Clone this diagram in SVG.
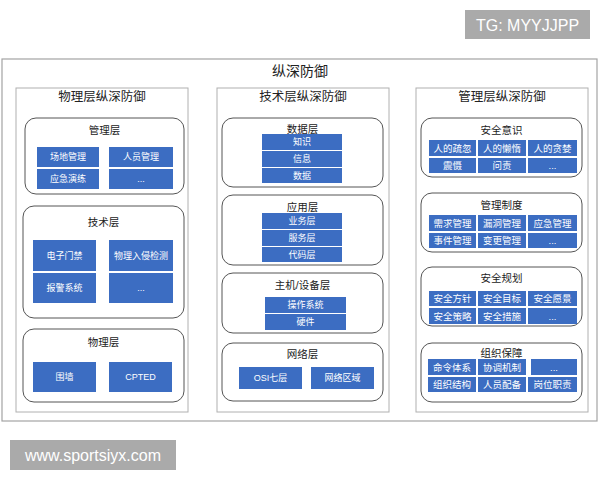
<svg xmlns="http://www.w3.org/2000/svg" width="600" height="480" viewBox="0 0 600 480">
<style>
text{font-family:"Liberation Sans","Noto Sans CJK SC",sans-serif;text-anchor:middle;dominant-baseline:central}
.outer{fill:#fff;stroke:#a3a3a3;stroke-width:1.2}
.col{fill:#fff;stroke:#b0b0b0;stroke-width:1}
.grp{fill:#fff;stroke:#555;stroke-width:1}
.cell{fill:#3c6dc2}
.ct{fill:#fff;font-size:9px}
.cr{font-size:9.5px}
.gt{fill:#222;font-size:10.5px}
.colt{fill:#222;font-size:12.5px}
.title{fill:#222;font-size:14px}
.wm{fill:#aaaaaa}
.wmt{fill:#fff;font-size:16px}
</style>
<rect width="600" height="480" fill="#fff"/>
<g id="watermark-tg"><rect class="wm" x="465" y="10" width="125" height="29"/><text class="wmt" x="527.5" y="25">TG: MYYJJPP</text></g>
<g id="outer"><rect class="outer" x="2" y="59" width="595" height="362"/><text class="title" x="300" y="71">纵深防御</text></g>

<g id="col-physical"><rect class="col" x="16" y="88" width="172" height="324"/><text class="colt" x="102" y="97">物理层纵深防御</text></g>
<g id="col-tech"><rect class="col" x="217" y="88" width="172" height="324"/><text class="colt" x="303" y="97">技术层纵深防御</text></g>
<g id="col-mgmt"><rect class="col" x="416" y="88" width="172" height="324"/><text class="colt" x="502" y="97">管理层纵深防御</text></g>

<g id="p-mgmt"><rect class="grp" x="25" y="118" width="159" height="76" rx="11"/><text class="gt" x="104.5" y="130">管理层</text>
<rect class="cell" x="37" y="147" width="62" height="20"/><text class="ct" x="68" y="157">场地管理</text>
<rect class="cell" x="109" y="147" width="64" height="20"/><text class="ct" x="141" y="157">人员管理</text>
<rect class="cell" x="37" y="169" width="62" height="20"/><text class="ct" x="68" y="179">应急演练</text>
<rect class="cell" x="109" y="169" width="64" height="20"/><text class="ct" x="141" y="179">...</text></g>

<g id="p-tech"><rect class="grp" x="23" y="206" width="161" height="112" rx="11"/><text class="gt" x="103.5" y="222">技术层</text>
<rect class="cell" x="33" y="240" width="63" height="31"/><text class="ct" x="64.5" y="255.5">电子门禁</text>
<rect class="cell" x="109" y="240" width="64" height="31"/><text class="ct" x="141" y="255.5">物理入侵检测</text>
<rect class="cell" x="33" y="273" width="63" height="30"/><text class="ct" x="64.5" y="288">报警系统</text>
<rect class="cell" x="109" y="273" width="64" height="30"/><text class="ct" x="141" y="288">...</text></g>

<g id="p-phys"><rect class="grp" x="23" y="329" width="161" height="73" rx="11"/><text class="gt" x="103.5" y="342">物理层</text>
<rect class="cell" x="33" y="362" width="63" height="30"/><text class="ct" x="64.5" y="377">围墙</text>
<rect class="cell" x="109" y="362" width="63" height="30"/><text class="ct" x="140.5" y="377">CPTED</text></g>

<g id="t-data"><rect class="grp" x="222" y="118" width="161" height="69" rx="11"/><text class="gt" x="302.5" y="129">数据层</text>
<rect class="cell" x="262" y="134" width="80" height="16"/><text class="ct" x="302" y="142">知识</text>
<rect class="cell" x="262" y="151" width="80" height="16"/><text class="ct" x="302" y="159">信息</text>
<rect class="cell" x="262" y="168" width="80" height="15"/><text class="ct" x="302" y="175.5">数据</text></g>

<g id="t-app"><rect class="grp" x="222" y="195" width="161" height="70" rx="11"/><text class="gt" x="302.5" y="207">应用层</text>
<rect class="cell" x="262" y="213" width="80" height="16"/><text class="ct" x="302" y="221">业务层</text>
<rect class="cell" x="262" y="230" width="80" height="16"/><text class="ct" x="302" y="238">服务层</text>
<rect class="cell" x="262" y="247" width="80" height="15"/><text class="ct" x="302" y="254.5">代码层</text></g>

<g id="t-host"><rect class="grp" x="222" y="273" width="161" height="60" rx="11"/><text class="gt" x="302.5" y="285">主机/设备层</text>
<rect class="cell" x="265" y="297" width="81" height="16"/><text class="ct" x="305.5" y="305">操作系统</text>
<rect class="cell" x="265" y="314" width="81" height="16"/><text class="ct" x="305.5" y="322">硬件</text></g>

<g id="t-net"><rect class="grp" x="222" y="343" width="161" height="58" rx="11"/><text class="gt" x="302.5" y="354">网络层</text>
<rect class="cell" x="239" y="367" width="63" height="22"/><text class="ct" x="270.5" y="378">OSI七层</text>
<rect class="cell" x="311" y="367" width="63" height="22"/><text class="ct" x="342.5" y="378">网络区域</text></g>

<g id="m-aware"><rect class="grp" x="421" y="118" width="161" height="59" rx="11"/><text class="gt" x="501.5" y="130">安全意识</text>
<rect class="cell" x="429" y="140" width="47" height="16"/><text class="ct cr" x="452.5" y="148">人的疏忽</text>
<rect class="cell" x="478" y="140" width="48" height="16"/><text class="ct cr" x="502" y="148">人的懒惰</text>
<rect class="cell" x="528" y="140" width="49" height="16"/><text class="ct cr" x="552.5" y="148">人的贪婪</text>
<rect class="cell" x="429" y="158" width="47" height="15"/><text class="ct cr" x="452.5" y="165.5">震慑</text>
<rect class="cell" x="478" y="158" width="48" height="15"/><text class="ct cr" x="502" y="165.5">问责</text>
<rect class="cell" x="528" y="158" width="49" height="15"/><text class="ct cr" x="552.5" y="165.5">...</text></g>

<g id="m-policy"><rect class="grp" x="421" y="193" width="161" height="59" rx="11"/><text class="gt" x="501.5" y="205">管理制度</text>
<rect class="cell" x="429" y="215" width="47" height="16"/><text class="ct cr" x="452.5" y="223">需求管理</text>
<rect class="cell" x="478" y="215" width="48" height="16"/><text class="ct cr" x="502" y="223">漏洞管理</text>
<rect class="cell" x="528" y="215" width="49" height="16"/><text class="ct cr" x="552.5" y="223">应急管理</text>
<rect class="cell" x="429" y="233" width="47" height="15"/><text class="ct cr" x="452.5" y="240.5">事件管理</text>
<rect class="cell" x="478" y="233" width="48" height="15"/><text class="ct cr" x="502" y="240.5">变更管理</text>
<rect class="cell" x="528" y="233" width="49" height="15"/><text class="ct cr" x="552.5" y="240.5">...</text></g>

<g id="m-plan"><rect class="grp" x="421" y="267" width="161" height="59" rx="11"/><text class="gt" x="501.5" y="278">安全规划</text>
<rect class="cell" x="429" y="291" width="47" height="15"/><text class="ct cr" x="452.5" y="298.5">安全方针</text>
<rect class="cell" x="478" y="291" width="48" height="15"/><text class="ct cr" x="502" y="298.5">安全目标</text>
<rect class="cell" x="528" y="291" width="49" height="15"/><text class="ct cr" x="552.5" y="298.5">安全愿景</text>
<rect class="cell" x="429" y="308" width="47" height="16"/><text class="ct cr" x="452.5" y="316">安全策略</text>
<rect class="cell" x="478" y="308" width="48" height="16"/><text class="ct cr" x="502" y="316">安全措施</text>
<rect class="cell" x="528" y="308" width="49" height="16"/><text class="ct cr" x="552.5" y="316">...</text></g>

<g id="m-org"><rect class="grp" x="421" y="343" width="161" height="59" rx="11"/><text class="gt" x="501.5" y="353">组织保障</text>
<rect class="cell" x="428" y="359" width="48" height="16"/><text class="ct cr" x="452" y="367">命令体系</text>
<rect class="cell" x="478" y="359" width="48" height="16"/><text class="ct cr" x="502" y="367">协调机制</text>
<rect class="cell" x="531" y="359" width="46" height="16"/><text class="ct cr" x="554" y="367">...</text>
<rect class="cell" x="428" y="377" width="48" height="15"/><text class="ct cr" x="452" y="384.5">组织结构</text>
<rect class="cell" x="478" y="377" width="48" height="15"/><text class="ct cr" x="502" y="384.5">人员配备</text>
<rect class="cell" x="528" y="377" width="49" height="15"/><text class="ct cr" x="552.5" y="384.5">岗位职责</text></g>

<g id="connectors"></g>
<g id="watermark-www"><rect class="wm" x="10" y="440" width="166" height="30"/><text class="wmt" x="93" y="455">www.sportsiyx.com</text></g>
</svg>
